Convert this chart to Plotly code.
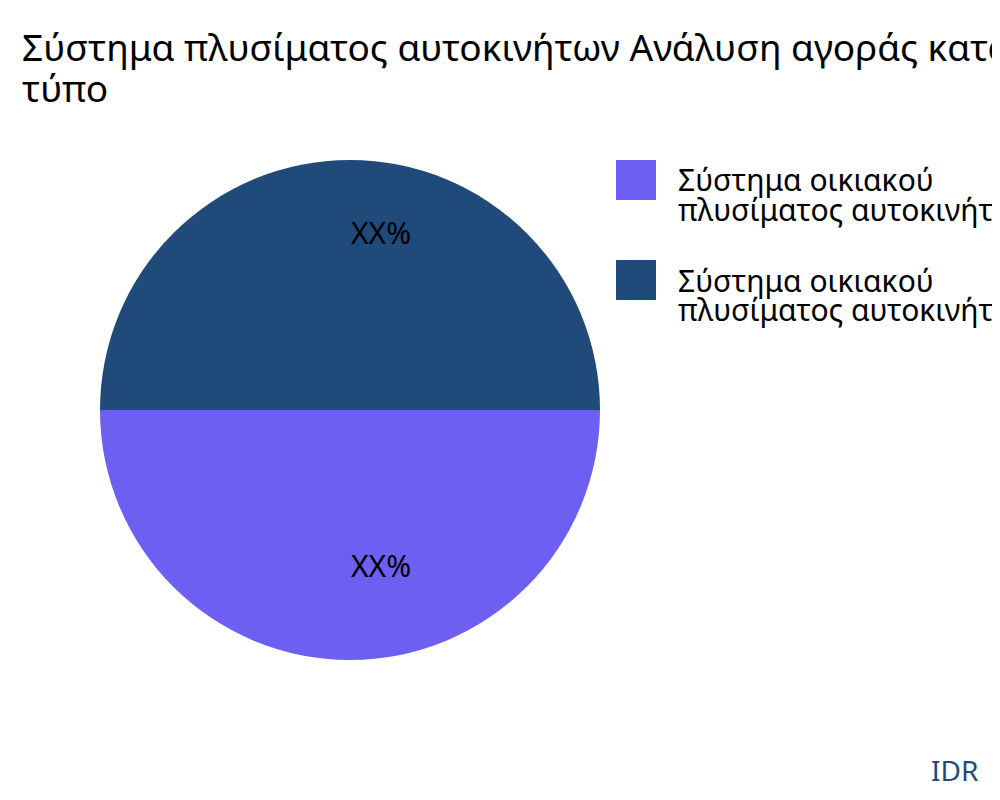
import plotly.graph_objects as go

labels = ["Σύστημα οικιακού πλυσίματος αυτοκινήτων υψηλής πίεσης",
          "Σύστημα οικιακού πλυσίματος αυτοκινήτων χαμηλής πίεσης"]
legend_lines = [["Σύστημα οικιακού", "πλυσίματος αυτοκινήτων υψηλής πίεσης"],
                ["Σύστημα οικιακού", "πλυσίματος αυτοκινήτων χαμηλής πίεσης"]]
values = [50, 50]
texts = ["XX%", "XX%"]
colors = ["#6C5FF2", "#1F4A7A"]
title_lines = ["Σύστημα πλυσίματος αυτοκινήτων Ανάλυση αγοράς κατά", "τύπο"]

W, H = 1000, 800
OFF = 8  # page body margin


def px(x):
    return (x - OFF) / W


def py(y):
    return 1 - (y - OFF) / H


fig = go.Figure(go.Pie(
    labels=labels, values=values, textinfo="none",
    marker=dict(colors=colors), sort=False, direction="clockwise", rotation=90,
    domain=dict(x=[px(100), px(600)], y=[py(660), py(160)]), showlegend=False,
    hoverinfo="skip",
))

# slice labels
for t, ty in zip(texts, [565, 232]):
    fig.add_annotation(xref="paper", yref="paper", x=px(381), y=py(ty), text=t,
                       showarrow=False, xanchor="center", yanchor="middle",
                       font=dict(size=30, family="Noto Sans", color="black"))

for i, (lines, col) in enumerate(zip(legend_lines, colors)):
    top = 160 + i * 100
    fig.add_shape(type="rect", xref="paper", yref="paper",
                  x0=px(616), x1=px(656), y0=py(top + 40), y1=py(top),
                  fillcolor=col, line_width=0)
    for j, ln in enumerate(lines):
        fig.add_annotation(xref="paper", yref="paper", x=px(676), y=py(top + 20 + 30 * j),
                           text=ln, showarrow=False, xanchor="left", yanchor="middle",
                           font=dict(size=30, family="Noto Sans", color="black"))

for j, ln in enumerate(title_lines):
    fig.add_annotation(xref="paper", yref="paper", x=px(20), y=py(47 + 40 * j),
                       text=ln, showarrow=False, xanchor="left", yanchor="middle",
                       font=dict(size=37, family="Noto Sans", color="black"))

fig.add_annotation(xref="paper", yref="paper", x=px(980), y=py(770), text="IDR",
                   showarrow=False, xanchor="right", yanchor="middle",
                   font=dict(size=28, family="Noto Sans", color="#1F4A7A"))

fig.update_layout(
    width=W, height=H, margin=dict(l=0, r=0, t=0, b=0),
    paper_bgcolor="white", plot_bgcolor="white",
)
fig.write_html("out.html")
